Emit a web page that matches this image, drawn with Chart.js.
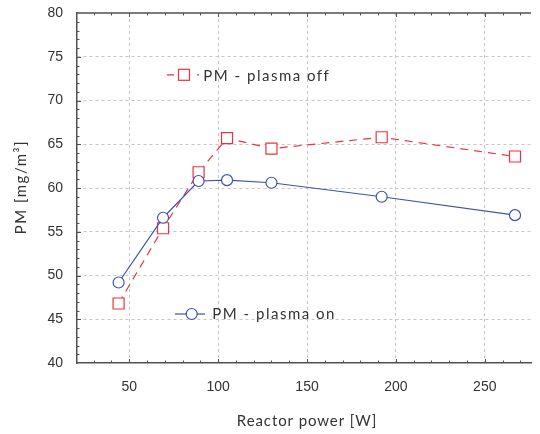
<!DOCTYPE html>
<html>
<head>
<meta charset="utf-8">
<script src="https://cdn.jsdelivr.net/npm/chart.js@4/dist/chart.umd.min.js"></script>
<style>
  body { margin: 0; background: #fff; }
  canvas { display: block; }
</style>
</head>
<body>
<canvas id="chart" width="540" height="434"></canvas>
<script>
// reactor power [W] for each measurement
const powerW = [44, 69, 89, 105, 130, 192, 267];
// PM concentration [mg/m3]
const pmPlasmaOn = [49.2, 56.6, 60.8, 60.9, 60.6, 59.0, 56.9];
const pmPlasmaOff = [46.8, 55.4, 61.8, 65.7, 64.5, 65.8, 63.6];
const xTicks = [50, 100, 150, 200, 250];
const yTicks = [40, 45, 50, 55, 60, 65, 70, 75, 80];
const seriesNames = ["PM - plasma on", "PM - plasma off"];
const xTitle = "Reactor power [W]";
const yTitle = "PM [mg/m³]";

const blue = "#3f53a6";
const red = "#e8343a";
const axisColor = "#505050";
const textColor = "#333333";

function toPoints(xs, ys) {
    return xs.map(function (x, i) {
        return { x: x, y: ys[i] };
    });
}

// inward ticks, top frame line, axis titles and the two floating legends
const framePlugin = {
    id: "frame",
    afterDraw(chart) {
        const ctx = chart.ctx;
        const area = chart.chartArea;
        const xs = chart.scales.x;
        const ys = chart.scales.y;
        ctx.save();
        ctx.strokeStyle = axisColor;
        ctx.lineWidth = 1.5;
        ctx.beginPath();
        ctx.moveTo(area.left, area.top);
        ctx.lineTo(area.right, area.top);
        ctx.stroke();

        ctx.lineWidth = 1;
        ctx.beginPath();
        for (let v = 30; v <= 270; v += 10) {
            const px = Math.round(xs.getPixelForValue(v)) + 0.5;
            const len = v % 50 === 0 ? 4 : 2.5;
            ctx.moveTo(px, area.bottom);
            ctx.lineTo(px, area.bottom - len);
            ctx.moveTo(px, area.top);
            ctx.lineTo(px, area.top + len);
        }
        for (let v = 41; v < 80; v += 1) {
            const py = Math.round(ys.getPixelForValue(v)) + 0.5;
            const len = v % 5 === 0 ? 4 : 2.5;
            ctx.moveTo(area.left, py);
            ctx.lineTo(area.left + len, py);
        }
        ctx.stroke();

        ctx.fillStyle = textColor;
        ctx.font = "15px Lato";
        ctx.textBaseline = "alphabetic";

        // axis titles
        ctx.letterSpacing = "0.9px";
        ctx.textAlign = "center";
        ctx.fillText(xTitle, (area.left + area.right) / 2 + 3, 426);
        ctx.save();
        ctx.translate(26, (area.top + area.bottom) / 2 - 1);
        ctx.rotate(-Math.PI / 2);
        ctx.letterSpacing = "1.5px";
        ctx.fillText(yTitle, 0, 0);
        ctx.restore();

        // legends
        ctx.textAlign = "left";
        ctx.letterSpacing = "1.5px";

        // plasma off
        let ly = area.top + 61.8;
        ctx.strokeStyle = red;
        ctx.lineWidth = 1.2;
        ctx.setLineDash([7, 8]);
        ctx.beginPath();
        ctx.moveTo(area.left + 90, ly);
        ctx.lineTo(area.left + 122, ly);
        ctx.stroke();
        ctx.setLineDash([]);
        ctx.fillStyle = "#fff";
        ctx.fillRect(area.left + 101.5, ly - 5.5, 11, 11);
        ctx.strokeRect(area.left + 101.5, ly - 5.5, 11, 11);
        ctx.fillStyle = textColor;
        ctx.fillText(seriesNames[1], area.left + 126.3, area.top + 67.7);

        // plasma on
        ly = area.top + 301;
        ctx.strokeStyle = blue;
        ctx.lineWidth = 1.2;
        ctx.beginPath();
        ctx.moveTo(area.left + 98, ly);
        ctx.lineTo(area.left + 128, ly);
        ctx.stroke();
        ctx.fillStyle = "#fff";
        ctx.beginPath();
        ctx.arc(area.left + 114.7, ly, 5.5, 0, Math.PI * 2);
        ctx.fill();
        ctx.stroke();
        ctx.fillStyle = textColor;
        ctx.fillText(seriesNames[0], area.left + 135.3, area.top + 306.3);
        ctx.restore();
    },
};

const gridOptions = {
    color: function (c) {
        if (c.tick && (c.tick.value === 40 || c.tick.value === 80)) return "rgba(0,0,0,0)";
        return "#c6c6c6";
    },
    lineWidth: 1,
    drawTicks: false,
};

new Chart(document.getElementById("chart"), {
    type: "line",
    data: {
        datasets: [
            {
                label: seriesNames[0],
                data: toPoints(powerW, pmPlasmaOn),
                borderColor: blue,
                borderWidth: 1.2,
                backgroundColor: "#fff",
                pointStyle: "circle",
                pointRadius: 5.5,
                pointBorderWidth: 1.2,
                pointBackgroundColor: "#fff",
                tension: 0,
            },
            {
                label: seriesNames[1],
                data: toPoints(powerW, pmPlasmaOff),
                borderColor: red,
                borderWidth: 1.2,
                borderDash: [8, 6],
                backgroundColor: "#fff",
                pointStyle: "rect",
                pointRadius: 7.8,
                pointBorderWidth: 1.2,
                pointBackgroundColor: "#fff",
                tension: 0,
            },
        ],
    },
    options: {
        responsive: false,
        animation: false,
        layout: { padding: { top: 13, right: 0, left: 0, bottom: 0 } },
        plugins: {
            legend: { display: false },
            tooltip: { enabled: false },
        },
        scales: {
            x: {
                type: "linear",
                min: 20.6,
                max: 276,
                afterBuildTicks: function (scale) {
                    scale.ticks = xTicks.map(function (v) { return { value: v }; });
                },
                afterFit: function (scale) {
                    scale.height = 71;
                    scale.paddingLeft = 0;
                    scale.paddingRight = 0;
                },
                grid: gridOptions,
                border: { color: axisColor, width: 1.5, dash: [3, 3] },
                ticks: {
                    font: { family: "Liberation Sans", size: 14 },
                    color: textColor,
                    padding: 16,
                    maxRotation: 0,
                },
            },
            y: {
                min: 40,
                max: 80,
                afterBuildTicks: function (scale) {
                    scale.ticks = yTicks.map(function (v) { return { value: v }; });
                },
                afterFit: function (scale) {
                    scale.width = 77;
                    scale.paddingTop = 0;
                    scale.paddingBottom = 0;
                },
                grid: gridOptions,
                border: { color: axisColor, width: 1.5, dash: [3, 3] },
                ticks: {
                    font: { family: "Liberation Sans", size: 14 },
                    color: textColor,
                    padding: 14,
                },
            },
        },
    },
    plugins: [framePlugin],
});
</script>
</body>
</html>
